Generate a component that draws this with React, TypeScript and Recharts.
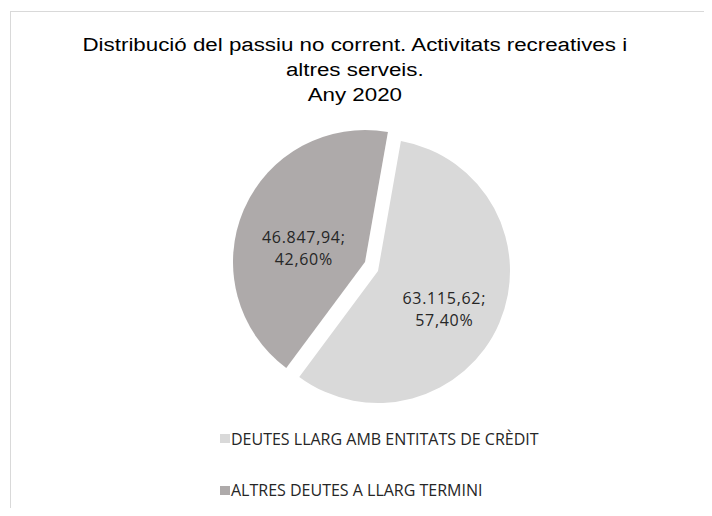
import { PieChart, Pie, Cell, Legend } from 'recharts';

const categories = ['DEUTES LLARG AMB ENTITATS DE CRÈDIT', 'ALTRES DEUTES A LLARG TERMINI'];
const values = [63115.62, 46847.94];
const colors = ['#d9d9d9', '#aeaaaa'];
const titleLines = [
  'Distribució del passiu no corrent. Activitats recreatives i',
  'altres serveis.',
  'Any 2020',
];

const data = categories.map((name, i) => ({ name, value: values[i] }));

const RAD = Math.PI / 180;

// 63115.62 -> "63.115,62"
function fmtNum(v: number, dec = 2) {
  const [int, frac] = v.toFixed(dec).split('.');
  return int.replace(/\B(?=(\d{3})+(?!\d))/g, '.') + ',' + frac;
}

function makeLabel(show: number, factor: number, dx: number, dy: number) {
  return (props: any) => {
    if (props.index !== show) return null;
    const { cx, cy, midAngle, outerRadius, value, percent } = props;
    const r = outerRadius * factor;
    const x = cx + r * Math.cos(-midAngle * RAD) + dx;
    const y = cy + r * Math.sin(-midAngle * RAD) + dy;
    return (
      <text
        textAnchor="middle"
        fill="#262626"
        fontFamily="Open Sans"
        fontSize={16}
        letterSpacing={0.7}
      >
        <tspan x={x} y={y - 5}>{fmtNum(value)};</tspan>
        <tspan x={x} y={y + 17}>{fmtNum(percent * 100)}%</tspan>
      </text>
    );
  };
}

function renderLegend(props: any) {
  const seen = new Set<string>();
  const items = (props.payload || [])
    .filter((p: any) => {
      if (seen.has(p.value)) return false;
      seen.add(p.value);
      return true;
    })
    .sort((a: any, b: any) => categories.indexOf(a.value) - categories.indexOf(b.value));
  return (
    <div>
      {items.map((p: any) => {
        const idx = categories.indexOf(p.value);
        return (
          <div
            key={p.value}
            style={{ display: 'flex', alignItems: 'center', height: 21, marginBottom: 30.5 }}
          >
            <span style={{ width: 10, height: 9, background: colors[idx], display: 'inline-block' }} />
            <span
              style={{
                marginLeft: 1,
                fontFamily: 'Open Sans',
                fontSize: 16,
                color: '#262626',
                whiteSpace: 'nowrap',
              }}
            >
              {p.value}
            </span>
          </div>
        );
      })}
    </div>
  );
}

export default function App() {
  return (
    <div style={{ margin: -8, width: 712, height: 516, position: 'relative', overflow: 'hidden', background: '#fff' }}>
      <div
        style={{
          position: 'absolute',
          left: 10,
          top: 11,
          width: 720,
          height: 520,
          borderTop: '1px solid #d9d9d9',
          borderLeft: '1px solid #d9d9d9',
        }}
      />
      <div
        style={{
          position: 'absolute',
          left: 0,
          top: 33,
          width: 712,
          textAlign: 'center',
          fontFamily: 'Liberation Sans, Arial, sans-serif',
          fontSize: 18,
          lineHeight: '25px',
          color: '#000',
          transform: 'scaleX(1.24)',
          transformOrigin: '361px 0',
        }}
      >
        {titleLines.map((t) => (
          <div key={t}>{t}</div>
        ))}
      </div>
      <div style={{ position: 'absolute', left: 0, top: 0 }}>
        <PieChart width={712} height={516}>
          <Pie
            data={data}
            dataKey="value"
            nameKey="name"
            cx={373}
            cy={266}
            outerRadius={132}
            startAngle={80}
            endAngle={-280}
            labelLine={false}
            label={makeLabel(0, 0.58, -4, 8)}
            isAnimationActive={false}
            stroke="none"
          >
            {data.map((d, i) => (
              <Cell key={d.name} fill={i === 0 ? colors[0] : 'transparent'} />
            ))}
          </Pie>
          <Pie
            data={data}
            dataKey="value"
            nameKey="name"
            cx={360}
            cy={257}
            outerRadius={132}
            startAngle={80}
            endAngle={-280}
            labelLine={false}
            label={makeLabel(1, 0.48, -3, 11)}
            legendType="none"
            isAnimationActive={false}
            stroke="none"
          >
            {data.map((d, i) => (
              <Cell key={d.name} fill={i === 1 ? colors[1] : 'transparent'} />
            ))}
          </Pie>
          <Legend
            content={renderLegend}
            wrapperStyle={{ position: 'absolute', left: 220, top: 428, width: 460, bottom: 'auto' }}
          />
        </PieChart>
      </div>
    </div>
  );
}
